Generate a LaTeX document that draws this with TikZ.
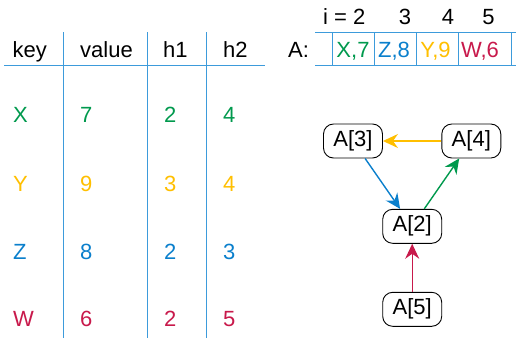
\documentclass[tikz,border=0pt]{standalone}
\usepackage{fontspec}
\setmainfont{Liberation Sans}
\usetikzlibrary{arrows.meta}
\definecolor{cgreen}{HTML}{00994D}
\definecolor{cyellow}{HTML}{FFBF00}
\definecolor{cblue}{HTML}{0A7FCC}
\definecolor{cred}{HTML}{C8194B}
\definecolor{cline}{HTML}{3D9BDB}
\tikzset{
  txt/.style={inner sep=0pt, anchor=base west, font=\fontsize{22}{26}\selectfont},
  ctxt/.style={inner sep=0pt, anchor=base, font=\fontsize{22}{26}\selectfont},
  tline/.style={draw=cline, line width=1pt},
  heap/.style={draw=black, line width=0.9pt, rounded corners=10pt, minimum width=59pt, minimum height=34pt, inner sep=0pt, font=\fontsize{22}{26}\selectfont},
  harrow/.style={line width=1.4pt, -{Stealth[length=15pt, width=14pt, inset=5pt]}},
}
\begin{document}
\begin{tikzpicture}[x=1pt, y=-1pt]
\useasboundingbox (0,0) rectangle (516,341);
% table lines
\draw[tline] (4,65) -- (265,65);
\foreach \xx in {63,147,206} \draw[tline] (\xx,32) -- (\xx,338);
% headers
\node[txt] (hkey) at (12.5,57) {key};
\node[txt] (hval) at (80,57) {value};
\node[txt] (hh1) at (163,57) {h1};
\node[txt] (hh2) at (223,57) {h2};
% rows
\node[txt, text=cgreen] (kx) at (13,122) {X};
\node[txt, text=cgreen] (vx) at (80,122) {7};
\node[txt, text=cgreen] (ax) at (164,122) {2};
\node[txt, text=cgreen] (bx) at (223,122) {4};
\node[txt, text=cyellow] (ky) at (13,191) {Y};
\node[txt, text=cyellow] (vy) at (80,191) {9};
\node[txt, text=cyellow] (ay) at (164,191) {3};
\node[txt, text=cyellow] (by) at (223,191) {4};
\node[txt, text=cblue] (kz) at (13,259) {Z};
\node[txt, text=cblue] (vz) at (80,259) {8};
\node[txt, text=cblue] (az) at (164,259) {2};
\node[txt, text=cblue] (bz) at (223,259) {3};
\node[txt, text=cred] (kw) at (13,326) {W};
\node[txt, text=cred] (vw) at (80,326) {6};
\node[txt, text=cred] (aw) at (164,326) {2};
\node[txt, text=cred] (bw) at (223,326) {5};
% array
\draw[tline] (315,32) -- (516,32);
\draw[tline] (315,65) -- (516,65);
\foreach \xx in {332.7,374.3,416.7,458.3,511} \draw[tline] (\xx,32) -- (\xx,65);
\node[txt] (alab) at (288,57) {A:};
\node[txt] (i2) at (323,24) {i = 2};
\node[ctxt] (i3) at (405,24) {3};
\node[ctxt] (i4) at (448,24) {4};
\node[ctxt] (i5) at (488.5,24) {5};
\node[ctxt, text=cgreen] (c1) at (353,57) {X,7};
\node[ctxt, text=cblue] (c2) at (394,57) {Z,8};
\node[ctxt, text=cyellow] (c3) at (435.5,57) {Y,9};
\node[ctxt, text=cred] (c4) at (480,57) {W,6};
% heap graph
\node[heap] (n3) at (353,141) {A[3]};
\node[heap] (n4) at (471.3,141) {A[4]};
\node[heap] (n2) at (412.2,226.3) {A[2]};
\node[heap] (n5) at (412.2,309.3) {A[5]};
\draw[harrow, cyellow] (n4) -- (n3);
\draw[harrow, cblue] (n3) -- (n2);
\draw[harrow, cgreen] (n2) -- (n4);
\draw[harrow, cred] (n5) -- (n2);
\end{tikzpicture}
\end{document}
